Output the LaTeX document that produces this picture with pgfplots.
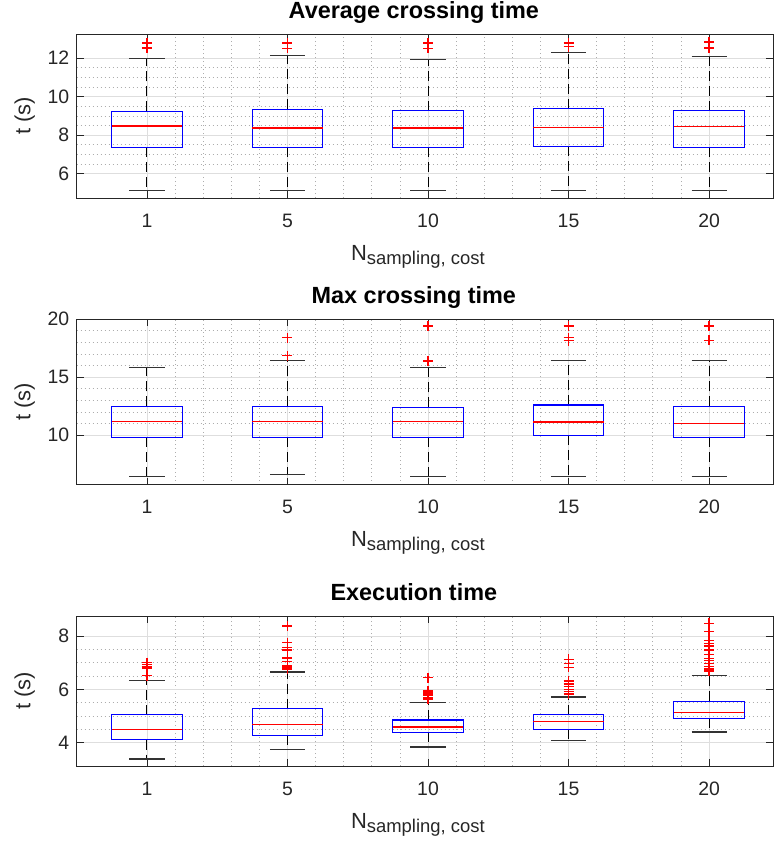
\documentclass[border=0pt]{standalone}
\usepackage{pgfplots}
\pgfplotsset{compat=1.18}
\usepgfplotslibrary{statistics}
\usepackage{fontspec}
\setmainfont{Liberation Sans}

\pgfplotsset{
  mybox/.style={
    scale only axis,
    width=696.3bp,
    xmin=0.5, xmax=5.455,
    xtick={1,2,3,4,5},
    xticklabels={1,5,10,15,20},
    minor x tick num=4,
    major tick length=7bp,
    minor tick length=0pt,
    tick style={black!85, line width=0.8bp},
    axis line style={black!85, line width=0.9bp},
    grid=both,
    major grid style={black!13, line width=0.8bp},
    minor grid style={black!32, line width=0.8bp, dash pattern=on 1.2bp off 2.8bp},
    /pgf/number format/assume math mode=true,
    ticklabel style={font=\fontsize{19.5}{20}\selectfont, text=black!85},
    xticklabel style={anchor=base, yshift=-29bp},
    yticklabel style={anchor=east, xshift=-4bp},
    title style={font=\bfseries\fontsize{23.5}{25}\selectfont, at={(0.5,1)}, anchor=base, yshift=10bp, xshift=-11bp},
    xlabel={N\raisebox{-4bp}{\fontsize{18.5}{18.5}\selectfont sampling, cost}},
    xlabel style={font=\fontsize{22}{24}\selectfont, text=black!85, at={(0.5,0)}, anchor=base, yshift=-62bp, xshift=-7bp},
    ylabel={t (s)},
    ylabel style={font=\fontsize{22}{24}\selectfont, text=black!85, at={(-0.0747,0.5)}, anchor=center},
    boxplot/draw direction=y,
    boxplot/box extend=0.5,
    boxplot/whisker extend=0.25,
    boxplot/draw/box/.code={%
      \draw[draw=blue, line width=1.05bp, solid]
        (boxplot box cs:\pgfplotsboxplotvalue{lower quartile},0) rectangle
        (boxplot box cs:\pgfplotsboxplotvalue{upper quartile},1);
    },
    boxplot/draw/median/.code={%
      \draw[draw=red, line width=1.2bp, solid]
        (boxplot box cs:\pgfplotsboxplotvalue{median},0) --
        (boxplot box cs:\pgfplotsboxplotvalue{median},1);
    },
    boxplot/draw/lower whisker/.code={%
      \draw[draw=black, line width=1bp, dash pattern=on 10bp off 5bp]
        (boxplot box cs:\pgfplotsboxplotvalue{lower quartile},0.5) --
        (boxplot box cs:\pgfplotsboxplotvalue{lower whisker},0.5);
      \draw[draw=black!80, line width=1.2bp, solid]
        (boxplot whisker cs:\pgfplotsboxplotvalue{lower whisker},0) --
        (boxplot whisker cs:\pgfplotsboxplotvalue{lower whisker},1);
    },
    boxplot/draw/upper whisker/.code={%
      \draw[draw=black, line width=1bp, dash pattern=on 10bp off 5bp]
        (boxplot box cs:\pgfplotsboxplotvalue{upper quartile},0.5) --
        (boxplot box cs:\pgfplotsboxplotvalue{upper whisker},0.5);
      \draw[draw=black!80, line width=1.2bp, solid]
        (boxplot whisker cs:\pgfplotsboxplotvalue{upper whisker},0) --
        (boxplot whisker cs:\pgfplotsboxplotvalue{upper whisker},1);
    },
  },
  bx/.style={draw=black, mark=none},
  outl/.style={only marks, mark=+, mark size=5bp, draw=red, mark options={solid, draw=red, line width=1.3bp}},
}

\begin{document}
\begin{tikzpicture}
\useasboundingbox (0bp,0bp) rectangle (774bp,-843bp);

% ---------------- Panel 1 ----------------
\begin{axis}[mybox, at={(76.7bp,-198bp)}, anchor=south west, height=164bp,
  ymin=4.74, ymax=13.25, ytick={6,8,10,12}, minor y tick num=3,
  title={Average crossing time}]
\addplot[bx, boxplot prepared={draw position=1, lower whisker=5.12, lower quartile=7.38, median=8.48, upper quartile=9.23, upper whisker=11.98}] coordinates {};
\addplot[bx, boxplot prepared={draw position=2, lower whisker=5.12, lower quartile=7.38, median=8.37, upper quartile=9.35, upper whisker=12.14}] coordinates {};
\addplot[bx, boxplot prepared={draw position=3, lower whisker=5.12, lower quartile=7.38, median=8.37, upper quartile=9.27, upper whisker=11.93}] coordinates {};
\addplot[bx, boxplot prepared={draw position=4, lower whisker=5.12, lower quartile=7.42, median=8.40, upper quartile=9.37, upper whisker=12.29}] coordinates {};
\addplot[bx, boxplot prepared={draw position=5, lower whisker=5.12, lower quartile=7.38, median=8.45, upper quartile=9.27, upper whisker=12.09}] coordinates {};
\addplot[outl] coordinates {
  (1,12.78) (1,12.52)
  (2,12.78) (2,12.50)
  (3,12.78) (3,12.50)
  (4,12.78) (4,12.60)
  (5,12.83) (5,12.52)};
\end{axis}

% ---------------- Panel 2 ----------------
\begin{axis}[mybox, at={(76.7bp,-484.7bp)}, anchor=south west, height=165.4bp,
  ymin=5.72, ymax=20, ytick={10,15,20}, minor y tick num=4,
  title={Max crossing time}]
\addplot[bx, boxplot prepared={draw position=1, lower whisker=6.42, lower quartile=9.80, median=11.21, upper quartile=12.49, upper whisker=15.81}] coordinates {};
\addplot[bx, boxplot prepared={draw position=2, lower whisker=6.59, lower quartile=9.80, median=11.21, upper quartile=12.49, upper whisker=16.42}] coordinates {};
\addplot[bx, boxplot prepared={draw position=3, lower whisker=6.42, lower quartile=9.80, median=11.21, upper quartile=12.40, upper whisker=15.81}] coordinates {};
\addplot[bx, boxplot prepared={draw position=4, lower whisker=6.42, lower quartile=10.00, median=11.13, upper quartile=12.60, upper whisker=16.42}] coordinates {};
\addplot[bx, boxplot prepared={draw position=5, lower whisker=6.42, lower quartile=9.80, median=11.01, upper quartile=12.49, upper whisker=16.42}] coordinates {};
\addplot[outl] coordinates {
  (2,18.41) (2,16.85)
  (3,19.42) (3,16.39)
  (4,19.42) (4,18.40) (4,18.15)
  (5,19.42) (5,18.18)};
\end{axis}

% ---------------- Panel 3 ----------------
\begin{axis}[mybox, at={(76.7bp,-766bp)}, anchor=south west, height=150bp,
  ymin=3.125, ymax=8.75, ytick={4,6,8}, minor y tick num=3,
  title={Execution time}]
\addplot[bx, boxplot prepared={draw position=1, lower whisker=3.39, lower quartile=4.11, median=4.50, upper quartile=5.04, upper whisker=6.34}] coordinates {};
\addplot[bx, boxplot prepared={draw position=2, lower whisker=3.75, lower quartile=4.28, median=4.68, upper quartile=5.28, upper whisker=6.65}] coordinates {};
\addplot[bx, boxplot prepared={draw position=3, lower whisker=3.84, lower quartile=4.39, median=4.59, upper quartile=4.85, upper whisker=5.51}] coordinates {};
\addplot[bx, boxplot prepared={draw position=4, lower whisker=4.08, lower quartile=4.50, median=4.78, upper quartile=5.05, upper whisker=5.71}] coordinates {};
\addplot[bx, boxplot prepared={draw position=5, lower whisker=4.40, lower quartile=4.91, median=5.14, upper quartile=5.56, upper whisker=6.51}] coordinates {};
\addplot[outl] coordinates {
  (1,7.00) (1,6.92) (1,6.85) (1,6.80) (1,6.51)
  (2,8.38) (2,7.75) (2,7.56) (2,7.50) (2,7.45) (2,7.20) (2,7.15) (2,7.04) (2,6.90) (2,6.85) (2,6.80) (2,6.75)
  (3,6.44) (3,5.95) (3,5.90) (3,5.86) (3,5.79) (3,5.70) (3,5.64)
  (4,7.13) (4,6.98) (4,6.83) (4,6.31) (4,6.20) (4,6.10) (4,6.00) (4,5.91) (4,5.83)
  (5,8.48) (5,8.16) (5,7.83) (5,7.73) (5,7.63) (5,7.48) (5,7.30) (5,7.16) (5,7.08) (5,6.98) (5,6.85) (5,6.76) (5,6.69)};
\end{axis}
\end{tikzpicture}
\end{document}
